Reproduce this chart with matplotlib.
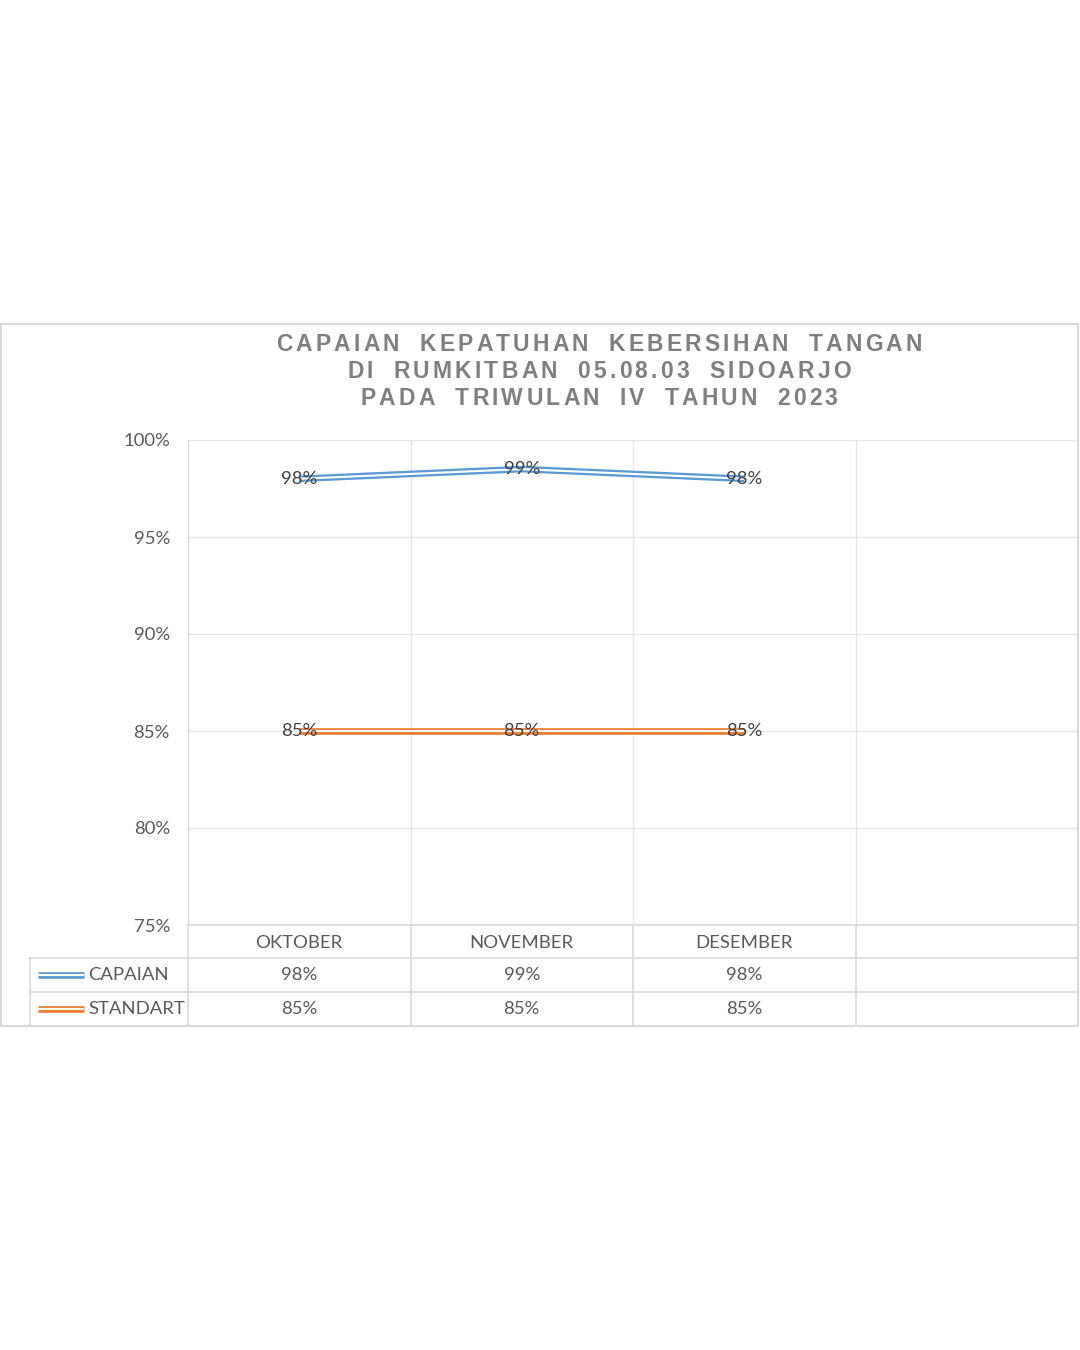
import matplotlib.pyplot as plt
from matplotlib.lines import Line2D
from matplotlib.patches import Rectangle
from matplotlib.font_manager import FontProperties
from matplotlib.transforms import blended_transform_factory

# data
months = ['OKTOBER', 'NOVEMBER', 'DESEMBER']
capaian = [98.0, 98.5, 98.0]
standart = [85, 85, 85]
series_names = ['CAPAIAN', 'STANDART']
colors = ['#5b9bd5', '#ed7d31']
title_lines = ['CAPAIAN KEPATUHAN KEBERSIHAN TANGAN',
               'DI RUMKITBAN 05.08.03 SIDOARJO',
               'PADA TRIWULAN IV TAHUN 2023']

W, H = 1080, 1350
fig = plt.figure(figsize=(W / 100, H / 100), dpi=100)


def fx(px):
    return px / W


def fy(py):
    return 1 - py / H


def pct(v):
    # excel style rounding (half up)
    return f'{int(v + 0.5)}%'


grid_c = '#e6e6e6'
tab_c = '#d9d9d9'
txt_c = '#595959'
font = 'Lato'
fs = 13.3

# chart border
fig.add_artist(Rectangle((fx(1), fy(1026)), fx(1078) - fx(1), fy(324) - fy(1026),
                         fill=False, ec=tab_c, lw=1.5, transform=fig.transFigure))

ax = fig.add_axes([fx(188), fy(925), fx(1078) - fx(188), fy(440) - fy(925)])
n_slots = 4
xs = [i + 0.5 for i in range(len(months))]
ax.set_xlim(0, n_slots)
ax.set_ylim(75, 100)
ax.set_yticks(range(75, 101, 5))
ax.set_yticklabels([f'{v}%' for v in range(75, 101, 5)], fontsize=fs,
                   color=txt_c, family=font)
ax.set_xticks(range(0, n_slots + 1))
ax.set_xticklabels([])
ax.tick_params(length=0, pad=13)
ax.grid(True, color=grid_c, lw=1)
for s in ['top', 'right', 'bottom']:
    ax.spines[s].set_visible(False)
ax.spines['left'].set_color(tab_c)


def double_line(x, y, color):
    ax.plot(x, y, color=color, lw=4.8, solid_joinstyle='miter', solid_capstyle='butt', zorder=3)
    ax.plot(x, y, color='white', lw=1.5, solid_joinstyle='miter', solid_capstyle='butt', zorder=3)


for vals, c in zip([capaian, standart], colors):
    double_line(xs, vals, c)
    for xi, v in zip(xs, vals):
        ax.text(xi, v, pct(v), ha='center', va='center', fontsize=fs,
                color='#404040', family=font, zorder=5)

# data table
trans_tab = blended_transform_factory(ax.transData, fig.transFigure)
rows = [925, 958, 992, 1026]
for k in range(n_slots + 1):
    fig.add_artist(Line2D([k, k], [fy(925), fy(1026)], color=tab_c, lw=1.2, transform=trans_tab))
fig.add_artist(Line2D([fx(188), fx(1078)], [fy(925), fy(925)], color=tab_c, lw=1.2,
                      transform=fig.transFigure))
for r in rows[1:]:
    fig.add_artist(Line2D([fx(30), fx(1078)], [fy(r), fy(r)], color=tab_c, lw=1.2,
                          transform=fig.transFigure))
fig.add_artist(Line2D([fx(30), fx(30)], [fy(958), fy(1026)], color=tab_c, lw=1.2,
                      transform=fig.transFigure))

hdr_y = fy((rows[0] + rows[1]) / 2 + 1)
for xi, m in zip(xs, months):
    ax.text(xi, hdr_y, m, transform=trans_tab, ha='center', va='center',
            fontsize=fs, color=txt_c, family=font, clip_on=False)

for i, (name, vals, c) in enumerate(zip(series_names, [capaian, standart], colors)):
    yc = fy((rows[i + 1] + rows[i + 2]) / 2)
    fig.add_artist(Line2D([fx(38), fx(84)], [yc, yc], color=c, lw=4.8,
                          solid_capstyle='butt', transform=fig.transFigure))
    fig.add_artist(Line2D([fx(38), fx(84)], [yc, yc], color='white', lw=1.5,
                          solid_capstyle='butt', transform=fig.transFigure))
    fig.text(fx(88), yc, name, ha='left', va='center', fontsize=fs,
             color=txt_c, family=font)
    for xi, v in zip(xs, vals):
        ax.text(xi, yc, pct(v), transform=trans_tab, ha='center', va='center',
                fontsize=fs, color=txt_c, family=font, clip_on=False)

# letter-spaced title
renderer = fig.canvas.get_renderer()
tfp = FontProperties(family='Liberation Sans', weight='bold', size=16.5)
em = 16.5 * 100 / 72
spacing = 3.2


def spaced_text(cx, base_y, s):
    widths = []
    for ch in s:
        if ch == ' ':
            widths.append(0.6 * em)
        else:
            widths.append(renderer.get_text_width_height_descent(ch, tfp, ismath=False)[0])
    total = sum(widths) + spacing * (len(s) - 1)
    x = cx - total / 2
    for ch, w in zip(s, widths):
        if ch != ' ':
            fig.text(fx(x), fy(base_y), ch, fontproperties=tfp, color='#7f7f7f',
                     ha='left', va='baseline')
        x += w + spacing


for line, by in zip(title_lines, [351, 378, 405]):
    spaced_text(599, by, line)

fig.savefig('out.png', dpi=100, facecolor='white')
